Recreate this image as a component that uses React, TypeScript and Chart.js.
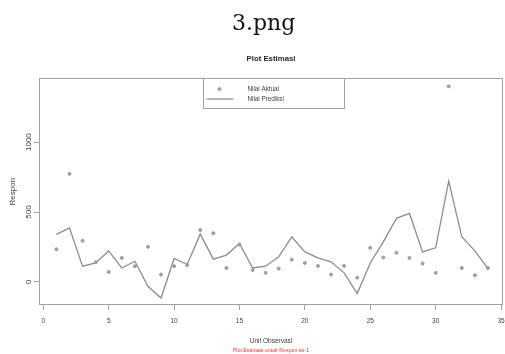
import React, { useEffect, useRef } from "react";
import { Chart, registerables } from "chart.js";

Chart.register(...registerables);

// ---- data ----
const pageCaption = "3.png";
const chartTitle = "Plot Estimasi";
const subTitle = "Plot Estimasi untuk Respon ke-1";
const xAxisTitle = "Unit Observasi";
const yAxisTitle = "Respon";
const seriesNames = ["Nilai Aktual", "Nilai Prediksi"];

const observations = [
  1, 2, 3, 4, 5, 6, 7, 8, 9, 10, 11, 12, 13, 14, 15, 16, 17,
  18, 19, 20, 21, 22, 23, 24, 25, 26, 27, 28, 29, 30, 31, 32, 33, 34,
];
const actualValues = [
  234, 773, 294, 141, 72, 172, 113, 251, 53, 113, 120, 371, 349, 100, 268, 85, 65,
  96, 160, 136, 115, 53, 115, 31, 244, 175, 208, 172, 132, 65, 1399, 100, 48, 100,
];
const predictedValues = [
  340, 387, 113, 136, 222, 100, 148, -31, -115, 168, 125, 342, 163, 192, 275, 100, 113,
  180, 323, 215, 172, 144, 65, -83, 136, 287, 455, 490, 215, 244, 722, 323, 222, 96,
];
const xTicks = [0, 5, 10, 15, 20, 25, 30, 35];
const yTicks = [0, 500, 1000];

const FONT = '"Liberation Sans", Arial, Helvetica, sans-serif';
const LINE_GREY = "#8c8c8c";
const BOX_GREY = "#a0a0a0";
const TEXT = "#3c3c3c";

const frameAndLegend = {
  id: "frameAndLegend",
  afterDraw(chart: any) {
    const { ctx, chartArea: ca } = chart;
    ctx.save();
    // plot frame
    ctx.strokeStyle = BOX_GREY;
    ctx.lineWidth = 1;
    ctx.strokeRect(
      Math.round(ca.left) + 0.5,
      Math.round(ca.top) + 0.5,
      Math.round(ca.right - ca.left) - 1,
      Math.round(ca.bottom - ca.top) - 1
    );
    // legend box (R style, top centre)
    const x0 = Math.round(ca.left + 164) + 0.5;
    const y0 = Math.round(ca.top) + 0.5;
    const w = 141;
    const h = 30;
    ctx.fillStyle = "#ffffff";
    ctx.fillRect(x0, y0, w, h);
    ctx.strokeRect(x0, y0, w, h);
    chart.data.datasets.forEach((ds: any, i: number) => {
      const y = y0 + 10.5 + i * 10;
      if (ds.showLine === false) {
        ctx.beginPath();
        ctx.arc(x0 + 16, y, 1.5, 0, Math.PI * 2);
        ctx.fillStyle = ds.backgroundColor;
        ctx.fill();
        ctx.strokeStyle = ds.borderColor;
        ctx.lineWidth = 0.8;
        ctx.stroke();
      } else {
        ctx.beginPath();
        ctx.moveTo(x0 + 3, y);
        ctx.lineTo(x0 + 30, y);
        ctx.strokeStyle = ds.borderColor;
        ctx.lineWidth = ds.borderWidth;
        ctx.stroke();
      }
      ctx.fillStyle = TEXT;
      ctx.font = `6.3px ${FONT}`;
      ctx.textAlign = "left";
      ctx.textBaseline = "middle";
      ctx.fillText(ds.label, x0 + 44, y);
    });
    ctx.restore();
  },
};

export default function App() {
  const canvasRef = useRef<HTMLCanvasElement | null>(null);

  useEffect(() => {
    const canvas = canvasRef.current;
    if (!canvas) return;
    const chart = new Chart(canvas, {
      type: "scatter",
      data: {
        datasets: [
          {
            label: seriesNames[0],
            data: observations.map((x, i) => ({ x, y: actualValues[i] })),
            showLine: false,
            pointStyle: "circle",
            pointRadius: 1.5,
            backgroundColor: "#a8a8a8",
            borderColor: "#8a8a8a",
            borderWidth: 0.8,
          },
          {
            label: seriesNames[1],
            data: observations.map((x, i) => ({ x, y: predictedValues[i] })),
            showLine: true,
            pointRadius: 0,
            borderColor: LINE_GREY,
            backgroundColor: LINE_GREY,
            borderWidth: 1.3,
            tension: 0,
          },
        ],
      },
      options: {
        responsive: false,
        animation: false,
        devicePixelRatio: 1,
        layout: { autoPadding: false, padding: { left: 0, right: 2, top: 0, bottom: 0 } },
        plugins: {
          legend: { display: false },
          tooltip: { enabled: false },
          title: {
            display: true,
            text: chartTitle,
            fullSize: false,
            color: "#262626",
            font: { family: FONT, size: 7.8, weight: "bold", lineHeight: 1.2 },
            padding: { top: 54.3, bottom: 14.8 },
          },
          subtitle: {
            display: true,
            text: subTitle,
            position: "bottom",
            fullSize: false,
            color: "#ff2a2a",
            font: { family: FONT, size: 5.3, lineHeight: 1.2 },
            padding: { top: 0, bottom: 0 },
          },
        },
        scales: {
          x: {
            type: "linear",
            min: -0.33,
            max: 35.15,
            afterBuildTicks: (scale: any) => {
              scale.ticks = xTicks.map((v) => ({ value: v }));
            },
            afterFit: (scale: any) => {
              scale.height = 42.6;
              scale.paddingLeft = 0;
              scale.paddingRight = 0;
            },
            grid: {
              display: true,
              drawOnChartArea: false,
              drawTicks: true,
              tickLength: 5,
              color: BOX_GREY,
            },
            border: { display: false },
            ticks: {
              color: TEXT,
              padding: 7,
              maxRotation: 0,
              callback: (v: any) => String(v),
              font: { family: FONT, size: 6.5, lineHeight: 1.2 },
            },
            title: {
              display: true,
              text: xAxisTitle,
              color: TEXT,
              font: { family: FONT, size: 6.5, lineHeight: 1.2 },
              padding: { top: 0, bottom: 2.7 },
            },
          },
          y: {
            type: "linear",
            min: -165,
            max: 1455,
            afterBuildTicks: (scale: any) => {
              scale.ticks = yTicks.map((v) => ({ value: v }));
            },
            afterFit: (scale: any) => {
              scale.width = 39;
              scale.paddingTop = 0;
              scale.paddingBottom = 0;
            },
            grid: {
              display: true,
              drawOnChartArea: false,
              drawTicks: true,
              tickLength: 5,
              color: BOX_GREY,
            },
            border: { display: false },
            ticks: {
              color: TEXT,
              padding: -3.2,
              minRotation: 90,
              maxRotation: 90,
              crossAlign: "center",
              callback: (v: any) => String(v),
              font: { family: FONT, size: 8, lineHeight: 1.2 },
            },
            title: {
              display: true,
              text: yAxisTitle,
              color: TEXT,
              font: { family: FONT, size: 8, lineHeight: 1.2 },
              padding: { top: 8.2, bottom: 0 },
            },
          },
        },
      },
      plugins: [frameAndLegend],
    } as any);
    return () => chart.destroy();
  }, []);

  return (
    <div
      style={{
        position: "absolute",
        left: 0,
        top: 0,
        width: 505,
        height: 354,
        background: "#ffffff",
        overflow: "hidden",
      }}
    >
      <canvas
        ref={canvasRef}
        width={505}
        height={354}
        style={{ position: "absolute", left: 0, top: 0, width: 505, height: 354 }}
      />
      <div
        style={{
          position: "absolute",
          left: 232,
          top: 12,
          font: '22px "DejaVu Serif", "Liberation Serif", serif',
          lineHeight: "22px",
          color: "#111",
          whiteSpace: "nowrap",
        }}
      >
        {pageCaption}
      </div>
    </div>
  );
}
